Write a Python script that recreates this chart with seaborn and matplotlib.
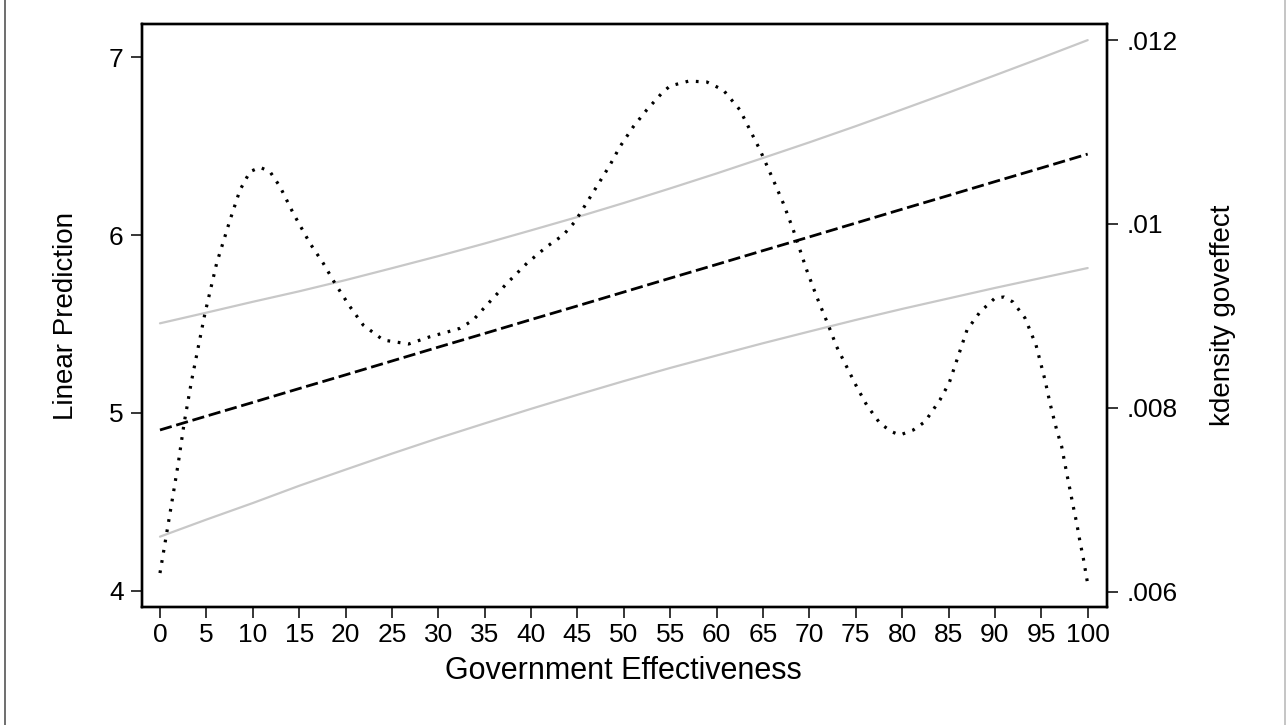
import numpy as np
import pandas as pd
import seaborn as sns
import matplotlib
matplotlib.use("Agg")
import matplotlib.pyplot as plt
from matplotlib.lines import Line2D

# ---------------- data ----------------
x_grid = [0, 5, 10, 15, 20, 25, 30, 35, 40, 45, 50, 55, 60, 65, 70, 75, 80, 85, 90, 95, 100]
pred = [4.904, 4.982, 5.059, 5.137, 5.214, 5.292, 5.370, 5.447, 5.525, 5.602, 5.680,
        5.758, 5.835, 5.913, 5.990, 6.068, 6.146, 6.223, 6.301, 6.378, 6.456]
ci_upper = [5.504, 5.564, 5.625, 5.684, 5.747, 5.814, 5.882, 5.953, 6.027, 6.102, 6.181,
            6.263, 6.347, 6.434, 6.522, 6.613, 6.707, 6.802, 6.899, 6.997, 7.097]
ci_lower = [4.304, 4.400, 4.493, 4.590, 4.681, 4.771, 4.858, 4.941, 5.023, 5.102, 5.179,
            5.253, 5.323, 5.392, 5.458, 5.523, 5.585, 5.644, 5.703, 5.759, 5.815]

kd_x = [0.0, 0.36, 0.90, 1.44, 1.97, 2.60, 3.42, 4.85, 6.11, 7.55, 8.62, 9.70, 10.78,
        11.86, 12.94, 14.37, 16.17, 17.60, 18.86, 20.48, 21.91, 24.07, 26.80, 29.10,
        31.08, 32.34, 33.77, 35.22, 37.40, 39.55, 41.68, 43.47, 44.73, 45.63, 47.07,
        48.51, 49.58, 51.02, 52.46, 54.08, 54.97, 57.02, 58.96, 60.72, 62.52, 63.60,
        64.68, 66.11, 67.19, 68.27, 69.71, 70.79, 72.04, 72.94, 74.02, 75.10, 76.18,
        77.61, 78.87, 79.76, 81.20, 82.46, 84.07, 85.08, 86.99, 88.39, 90.01, 90.98,
        91.95, 93.24, 94.43, 95.40, 95.94, 96.66, 97.20, 97.74, 98.10, 98.45, 98.82,
        99.17, 99.53, 100.0]
kd_y = [0.006203, 0.006418, 0.006744, 0.007070, 0.007396, 0.007831, 0.008302, 0.009028,
        0.009572, 0.010042, 0.010368, 0.010568, 0.010616, 0.010568, 0.010405, 0.010115,
        0.009789, 0.009572, 0.009354, 0.009100, 0.008900, 0.008737, 0.008694, 0.008773,
        0.008828, 0.008865, 0.008955, 0.009118, 0.009354, 0.009572, 0.009752, 0.009879,
        0.010024, 0.010170, 0.010405, 0.010641, 0.010840, 0.011057, 0.011239, 0.011420,
        0.011500, 0.011554, 0.011543, 0.011456, 0.011239, 0.011021, 0.010804, 0.010478,
        0.010224, 0.009934, 0.009499, 0.009208, 0.008900, 0.008665, 0.008447, 0.008229,
        0.008030, 0.007831, 0.007740, 0.007704, 0.007759, 0.007849, 0.008085, 0.008273,
        0.008846, 0.009042, 0.009194, 0.009205, 0.009151, 0.008977, 0.008683, 0.008302,
        0.008049, 0.007759, 0.007577, 0.007288, 0.007106, 0.006924, 0.006744, 0.006544,
        0.006363, 0.006085]

x_ticks = list(range(0, 101, 5))
left_ticks = [4, 5, 6, 7]
right_ticks = [0.006, 0.008, 0.010, 0.012]
right_tick_labels = [".006", ".008", ".01", ".012"]

x_label = "Government Effectiveness"
left_label = "Linear Prediction"
right_label = "kdensity goveffect"

# ---------------- style ----------------
sns.set_theme(style="white")
plt.rcParams['font.family'] = ['Liberation Sans', 'DejaVu Sans']

fig = plt.figure(figsize=(12.86, 7.25), dpi=100)
fig.patch.set_facecolor("white")
ax = fig.add_axes([141.7 / 1286, 1 - 606.7 / 725, (1106.7 - 141.7) / 1286, (606.7 - 24.3) / 725])

df_lin = pd.DataFrame({"x": x_grid, "pred": pred, "up": ci_upper, "lo": ci_lower})
gray = "#c8c8c8"
sns.lineplot(data=df_lin, x="x", y="up", ax=ax, color=gray, linewidth=1.6, sort=False)
sns.lineplot(data=df_lin, x="x", y="lo", ax=ax, color=gray, linewidth=1.6, sort=False)
sns.lineplot(data=df_lin, x="x", y="pred", ax=ax, color="black", linewidth=2.0,
             linestyle=(0, (4.4, 1.7)), sort=False)

ax.set_xlim(-1.97, 102.05)
ax.set_ylim(3.91, 7.186)
ax.set_xticks(x_ticks)
ax.set_xticklabels([str(t) for t in x_ticks])
ax.set_yticks(left_ticks)
ax.set_yticklabels([str(t) for t in left_ticks])

ax2 = ax.twinx()
df_kd = pd.DataFrame({"x": kd_x, "d": kd_y})
sns.lineplot(data=df_kd, x="x", y="d", ax=ax2, color="black", linewidth=2.3,
             linestyle=(0, (0.85, 2.4)), sort=False)
ax2.set_ylim(0.005837, 0.012171)
ax2.set_yticks(right_ticks)
ax2.set_yticklabels(right_tick_labels)
ax2.set_xlim(-1.97, 102.05)

for a in (ax, ax2):
    for s in a.spines.values():
        s.set_visible(True)
        s.set_color("black")
        s.set_linewidth(1.7)
    a.tick_params(direction="out", length=8, width=1.1, color="black",
                  labelsize=19, labelcolor="black")
    a.grid(False)

ax.tick_params(axis="y", left=True, right=False, pad=5)
ax.tick_params(axis="x", bottom=True, top=False, pad=4)
ax2.tick_params(axis="y", right=True, left=False, pad=6)

ax.set_xlabel(x_label, fontsize=22, color="black")
ax.set_ylabel(left_label, fontsize=20, color="black")
ax2.set_ylabel(right_label, fontsize=20, color="black", rotation=90)
ax.xaxis.set_label_coords(0.4988, -0.1104)
ax.xaxis.label.set_va("center")
ax.yaxis.set_label_coords(-0.0784, 0.5)
ax.yaxis.label.set_va("center")
ax2.yaxis.set_label_coords(1.1205, 0.5)
ax2.yaxis.label.set_va("center")
ax2.yaxis.label.set_ha("center")

# outer frame edges (left and right) like the reference
fig.add_artist(Line2D([4.5 / 1286, 4.5 / 1286], [0, 1], transform=fig.transFigure,
                      color="#555555", linewidth=1.2))
fig.add_artist(Line2D([1284.5 / 1286, 1284.5 / 1286], [0, 1], transform=fig.transFigure,
                      color="#bbbbbb", linewidth=1.2))

fig.savefig("out.png", dpi=100, facecolor="white")
